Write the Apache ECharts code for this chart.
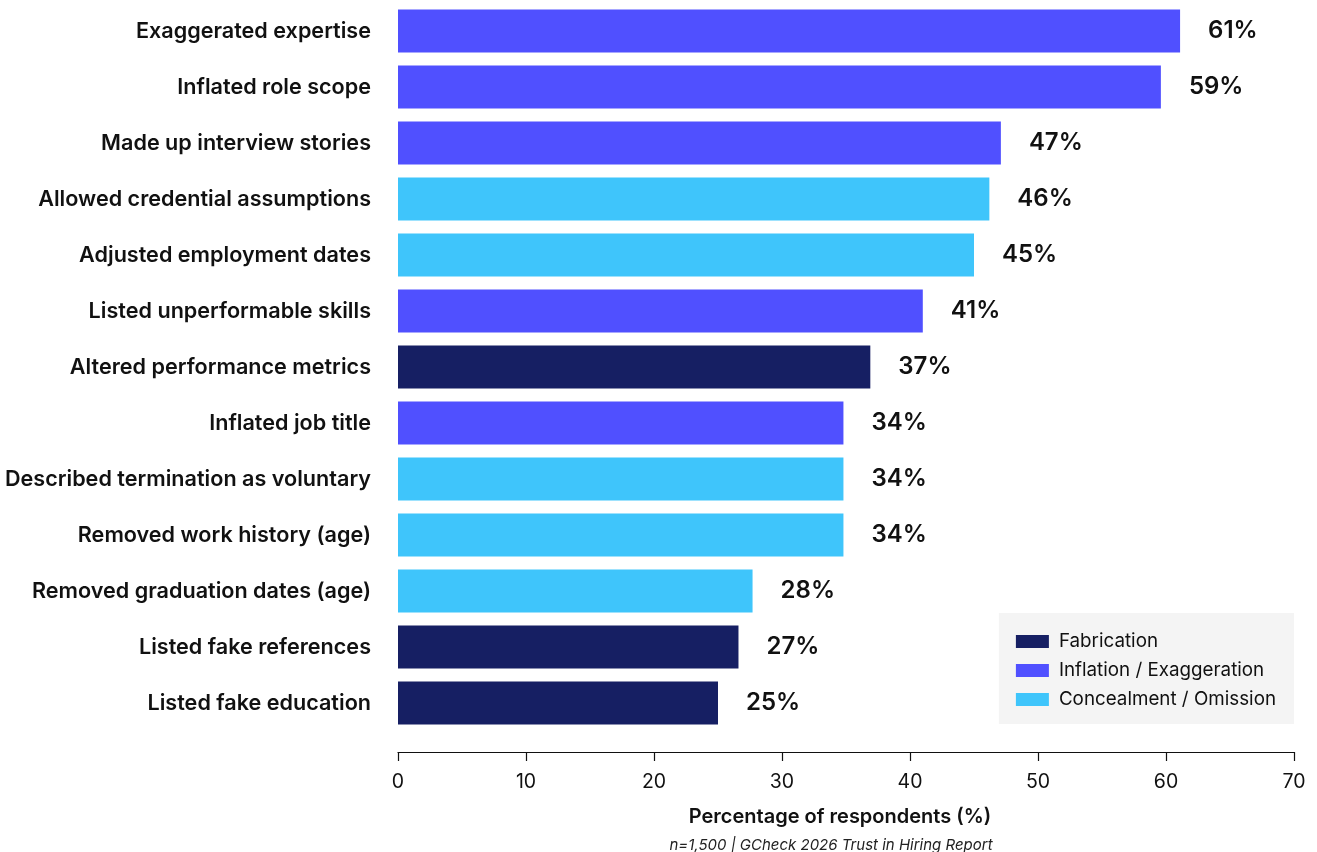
<!DOCTYPE html>
<html><head><meta charset="utf-8">
<script src="https://cdn.jsdelivr.net/npm/echarts@6/dist/echarts.min.js"></script>
<style>html,body{margin:0;padding:0;background:#fff;}#c{width:1317px;height:852px;}</style>
</head><body><div id="c"></div>
<script>
const categories = [
  "Exaggerated expertise","Inflated role scope","Made up interview stories",
  "Allowed credential assumptions","Adjusted employment dates","Listed unperformable skills",
  "Altered performance metrics","Inflated job title","Described termination as voluntary",
  "Removed work history (age)","Removed graduation dates (age)","Listed fake references",
  "Listed fake education"
];
const values = [61.1, 59.6, 47.1, 46.2, 45.0, 41.0, 36.9, 34.8, 34.8, 34.8, 27.7, 26.6, 25.0];
const valueLabels = ["61%","59%","47%","46%","45%","41%","37%","34%","34%","34%","28%","27%","25%"];
const types = ["Inflation / Exaggeration","Inflation / Exaggeration","Inflation / Exaggeration",
  "Concealment / Omission","Concealment / Omission","Inflation / Exaggeration",
  "Fabrication","Inflation / Exaggeration","Concealment / Omission",
  "Concealment / Omission","Concealment / Omission","Fabrication","Fabrication"];
const seriesNames = ["Fabrication","Inflation / Exaggeration","Concealment / Omission"];
const seriesColors = ["#161f63","#5050ff","#3fc5fb"];
const xTicks = {min:0, max:70, interval:10};

const FONT = "Inter";
const chart = echarts.init(document.getElementById('c'), null, {renderer:'canvas'});
const series = seriesNames.map((name, si) => ({
  name, type:'bar', stack:'all', barWidth:43,
  itemStyle:{color:seriesColors[si]},
  data: values.map((v,i)=> types[i]===name ? v : '-'),
  label:{show:true, position:'right', distance:28, fontFamily:FONT, fontSize:24, fontWeight:600, color:'#111',
    formatter: p => valueLabels[p.dataIndex]},
  emphasis:{disabled:true}
}));
chart.setOption({
  animation:false,
  grid:{left:398, right:23, top:3, bottom:121, containLabel:false},
  xAxis:{type:'value', min:xTicks.min, max:xTicks.max, interval:xTicks.interval, offset:21,
    axisLine:{show:true, lineStyle:{color:'#111', width:1.2}},
    axisTick:{show:true, length:9, lineStyle:{color:'#111', width:1.2}},
    splitLine:{show:false},
    axisLabel:{fontFamily:FONT, fontSize:19.5, color:'#111', margin:20},
    name:'Percentage of respondents (%)', nameLocation:'middle', nameGap:55,
    nameTextStyle:{fontFamily:FONT, fontSize:20, fontWeight:600, color:'#111', padding:[0,12,0,0]}
  },
  yAxis:{type:'category', data:categories, inverse:true,
    axisLine:{show:false}, axisTick:{show:false},
    axisLabel:{fontFamily:FONT, fontSize:21.6, fontWeight:600, color:'#111', margin:27}
  },
  legend:{data:seriesNames, orient:'vertical', right:23, bottom:128,
    backgroundColor:'#f4f4f4', padding:[19,18,15,17], itemWidth:33, itemHeight:13, itemGap:10,
    icon:'rect', textStyle:{fontFamily:FONT, fontSize:18.8, color:'#111', padding:[0,0,0,5]}, selectedMode:false},
  graphic:[{type:'text', x:831, y:838,
    style:{text:'n=1,500 | GCheck 2026 Trust in Hiring Report', fontFamily:FONT, fontSize:15, fontStyle:'italic', fill:'#222', align:'center', textAlign:'center'}}],
  series
});
</script></body></html>
